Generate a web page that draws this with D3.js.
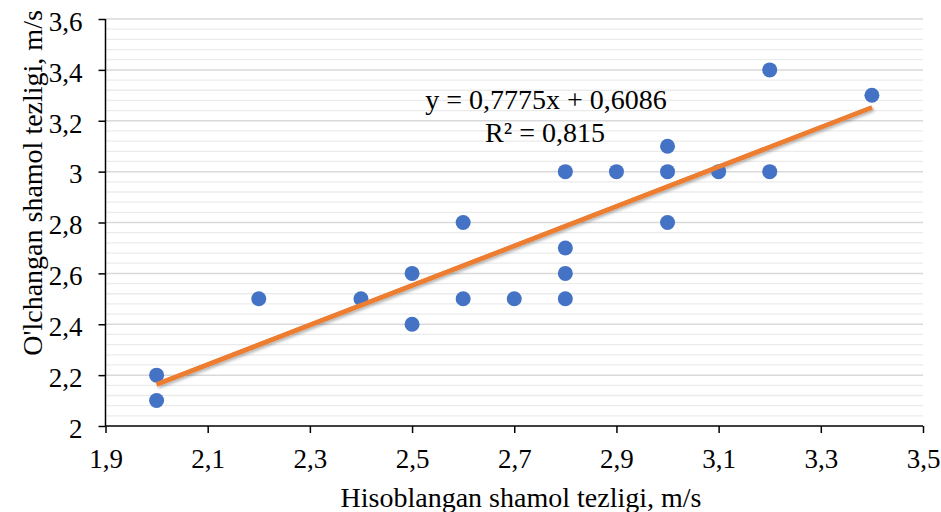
<!DOCTYPE html>
<html>
<head>
<meta charset="utf-8">
<script src="https://cdn.jsdelivr.net/npm/d3@7"></script>
<style>
  html, body { margin: 0; padding: 0; background: #fff; }
  svg { display: block; }
  svg text { font-family: "Liberation Serif", "Times New Roman", serif; fill: #000; }
</style>
</head>
<body>
<svg id="chart" width="941" height="512"></svg>
<script>
// ---- data ----
const xValues = [2.0, 2.0, 2.2, 2.4, 2.5, 2.5, 2.6, 2.6, 2.7, 2.8, 2.8, 2.8, 2.8, 2.9, 3.0, 3.0, 3.0, 3.1, 3.2, 3.2, 3.4];
const yValues = [2.2, 2.1, 2.5, 2.5, 2.6, 2.4, 2.8, 2.5, 2.5, 3.0, 2.7, 2.6, 2.5, 3.0, 3.1, 3.0, 2.8, 3.0, 3.4, 3.0, 3.3];
const xTicks = [1.9, 2.1, 2.3, 2.5, 2.7, 2.9, 3.1, 3.3, 3.5];
const yTicks = [2.0, 2.2, 2.4, 2.6, 2.8, 3.0, 3.2, 3.4, 3.6];
const trendSlope = 0.7775;
const trendIntercept = 0.6086;
const rSquared = 0.815;
const xTitle = "Hisoblangan shamol tezligi, m/s";
const yTitle = "O'lchangan shamol tezligi, m/s";

const fmt = v => String(+v.toFixed(4)).replace(".", ",");
const FONT = "'Liberation Serif', 'Times New Roman', serif";

const svg = d3.select("#chart");
const mLeft = 105.5, mRight = 923, mTop = 19, mBottom = 426;

const x = d3.scaleLinear().domain([1.9, 3.5]).range([mLeft, mRight]);
const y = d3.scaleLinear().domain([2.0, 3.6]).range([mBottom, mTop]);

// drop shadow for trendline
const defs = svg.append("defs");
const f = defs.append("filter").attr("id", "shadow").attr("x", "-10%").attr("y", "-50%").attr("width", "120%").attr("height", "200%");
f.append("feDropShadow").attr("dx", 1.5).attr("dy", 2).attr("stdDeviation", 1.5).attr("flood-color", "#000").attr("flood-opacity", 0.3);

// minor gridlines
const minor = d3.range(0, 41).map(i => 2.0 + i * 0.04).filter(v => Math.abs(Math.round(v * 5) - v * 5) > 1e-6);
svg.append("g").selectAll("line").data(minor).join("line")
  .attr("x1", mLeft).attr("x2", mRight)
  .attr("y1", d => y(d)).attr("y2", d => y(d))
  .attr("stroke", "#ebebeb").attr("stroke-width", 1.3);

// major gridlines
svg.append("g").selectAll("line").data(yTicks.slice(1)).join("line")
  .attr("x1", mLeft).attr("x2", mRight)
  .attr("y1", d => y(d)).attr("y2", d => y(d))
  .attr("stroke", "#d9d9d9").attr("stroke-width", 1.5);

// axes
const xAxis = d3.axisBottom(x).tickValues(xTicks).tickFormat(fmt).tickSize(7).tickPadding(16);
const gx = svg.append("g").attr("transform", `translate(0,${mBottom})`).call(xAxis)
  .attr("font-family", FONT).attr("font-size", 27);
gx.select(".domain").attr("stroke", "#000").attr("stroke-width", 1.5).attr("d", `M${mLeft},0H${mRight}`);
gx.selectAll(".tick line").attr("stroke", "#000").attr("stroke-width", 1.5);
gx.selectAll(".tick text").style("font-family", FONT).style("font-size", "27px").attr("fill", "#000");

const yAxis = d3.axisLeft(y).tickValues(yTicks).tickFormat(fmt).tickSize(7).tickPadding(16);
const gy = svg.append("g").attr("transform", `translate(${mLeft},0)`).call(yAxis)
  .attr("font-family", FONT).attr("font-size", 27);
gy.select(".domain").attr("stroke", "#000").attr("stroke-width", 1.5).attr("d", `M0,${mTop}V${mBottom}`);
gy.selectAll(".tick line").attr("stroke", "#000").attr("stroke-width", 1.5);
gy.selectAll(".tick text").style("font-family", FONT).style("font-size", "27px").attr("fill", "#000").attr("dy", "0.42em");

// trendline shadow
const xMin = d3.min(xValues), xMax = d3.max(xValues);
svg.append("line")
  .attr("x1", x(xMin)).attr("y1", y(trendSlope * xMin + trendIntercept))
  .attr("x2", x(xMax)).attr("y2", y(trendSlope * xMax + trendIntercept))
  .attr("stroke", "#ED7D31").attr("stroke-width", 4.5).attr("filter", "url(#shadow)");

// points
svg.append("g").selectAll("circle").data(xValues.map((v, i) => [v, yValues[i]])).join("circle")
  .attr("cx", d => x(d[0])).attr("cy", d => y(d[1])).attr("r", 7.5)
  .attr("fill", "#4472C4");

// trendline on top
svg.append("line")
  .attr("x1", x(xMin)).attr("y1", y(trendSlope * xMin + trendIntercept))
  .attr("x2", x(xMax)).attr("y2", y(trendSlope * xMax + trendIntercept))
  .attr("stroke", "#ED7D31").attr("stroke-width", 4.5);

// equation
svg.append("text").attr("x", 546).attr("y", 109).attr("text-anchor", "middle")
  .style("font-family", FONT).style("font-size", "28px").text(`y = ${fmt(trendSlope)}x + ${fmt(trendIntercept)}`);
svg.append("text").attr("x", 545).attr("y", 142).attr("text-anchor", "middle")
  .style("font-family", FONT).style("font-size", "28px").text(`R² = ${fmt(rSquared)}`);

// axis titles
svg.append("text").attr("x", 521).attr("y", 507).attr("text-anchor", "middle")
  .style("font-family", FONT).style("font-size", "28px").text(xTitle);
svg.append("text").attr("transform", "translate(42,183) rotate(-90)").attr("text-anchor", "middle")
  .style("font-family", FONT).style("font-size", "28px").text(yTitle);
</script>
</body>
</html>
